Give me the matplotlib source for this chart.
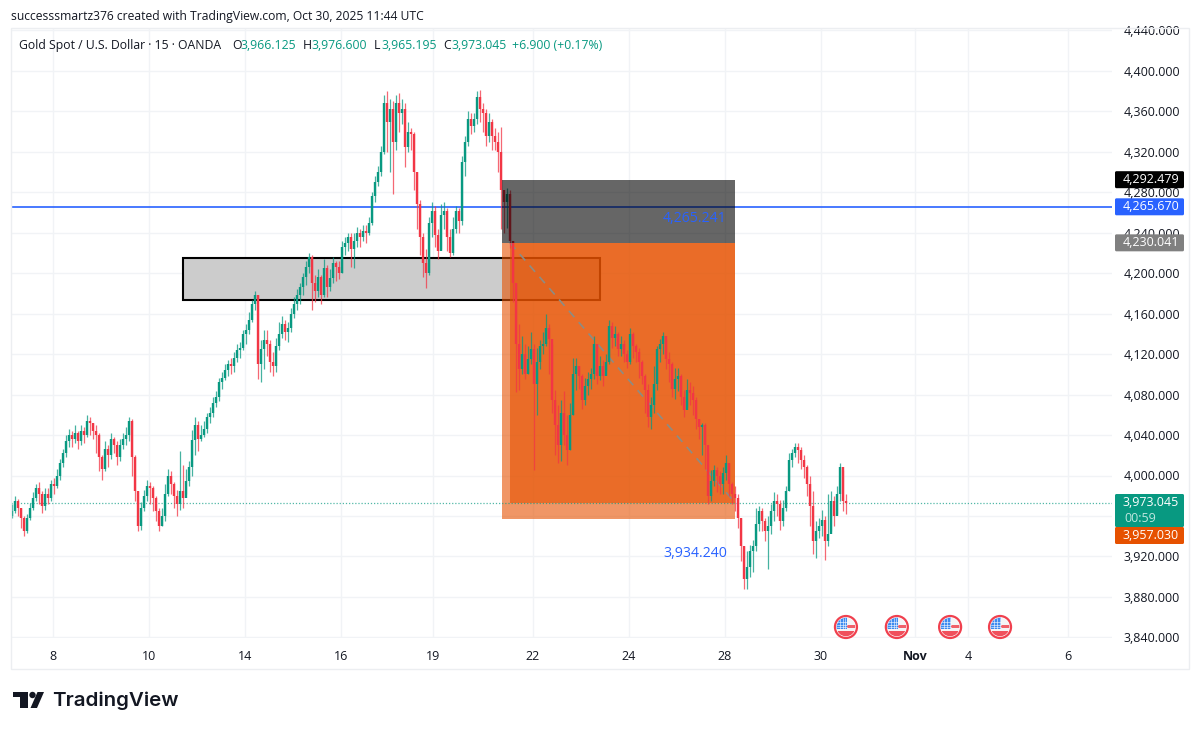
import matplotlib
matplotlib.use('Agg')
import matplotlib.pyplot as plt
from matplotlib.patches import Rectangle, Circle, Polygon, FancyBboxPatch

# 15 min gold chart, thinned out to one candle every 1/16 session
closes = [
    3965,3975,3968,3958,3945,3958,3968,3978,3988,3982,3970,3982,
    3978,3992,3990,4000,4012,4022,4034,4040,4036,4042,4034,4044,
    4040,4054,4052,4044,4040,4018,4006,4026,4020,4036,4030,4018,
    4030,4036,4040,4054,4018,3985,3950,3968,3980,3990,3988,3978,
    3965,3950,3960,3982,4000,3992,3980,3972,3985,3978,3995,4008,
    4035,4050,4036,4040,4046,4058,4062,4072,4078,4092,4096,4104,
    4110,4108,4116,4124,4126,4140,4144,4154,4170,4178,4110,4125,
    4134,4130,4112,4108,4128,4140,4150,4142,4146,4160,4170,4178,
    4186,4196,4206,4216,4190,4182,4196,4178,4205,4186,4195,4210,
    4206,4200,4226,4230,4236,4224,4232,4240,4236,4242,4240,4250,
    4276,4290,4300,4320,4368,4350,4362,4330,4368,4358,4362,4325,
    4340,4338,4300,4268,4236,4210,4200,4250,4262,4238,4222,4258,
    4262,4236,4220,4244,4262,4252,4310,4330,4352,4346,4352,4374,
    4362,4358,4336,4350,4336,4330,4320,4282,4270,4278,4232,4190,
    4130,4105,4120,4100,4115,4125,4090,4112,4128,4130,4146,4135,
    4075,4050,4030,4062,4040,4025,4060,4100,4108,4098,4075,4088,
    4095,4100,4130,4098,4108,4098,4112,4148,4136,4140,4125,4130,
    4120,4112,4140,4128,4122,4112,4098,4085,4058,4070,4090,4125,
    4130,4138,4115,4110,4086,4095,4098,4078,4065,4085,4082,4075,
    4056,4048,4050,4030,3980,3995,4005,4000,3992,4002,4012,3992,
    3982,3978,3958,3930,3898,3910,3925,3930,3952,3965,3955,3945,
    3950,3965,3975,3972,3955,3968,3985,4015,4022,4028,4025,4015,
    4008,3992,3970,3935,3945,3950,3956,3935,3942,3975,3960,3982,
    4008,3975,3973,
]
highs = [
    3972,3980,3977,3968,3960,3962,3973,3984,3992,3994,3985,3988,
    3988,3996,3998,4006,4016,4026,4040,4046,4044,4050,4044,4050,
    4048,4060,4058,4052,4050,4042,4020,4034,4030,4042,4038,4034,
    4036,4042,4048,4058,4056,4020,3985,3974,3986,3996,3994,3990,
    3980,3968,3968,3992,4006,4004,3994,3986,4024,4010,4006,4014,
    4045,4058,4054,4050,4054,4062,4068,4078,4084,4096,4102,4110,
    4114,4116,4122,4130,4132,4144,4150,4162,4174,4182,4178,4134,
    4144,4144,4134,4122,4136,4152,4158,4154,4152,4166,4176,4184,
    4190,4200,4212,4220,4218,4198,4204,4198,4214,4208,4204,4216,
    4212,4212,4232,4236,4240,4240,4240,4246,4244,4248,4248,4256,
    4280,4296,4306,4326,4376,4380,4372,4370,4376,4378,4372,4368,
    4350,4344,4340,4300,4272,4240,4224,4256,4270,4266,4244,4268,
    4270,4264,4244,4256,4266,4264,4316,4336,4360,4358,4358,4380,
    4381,4368,4362,4358,4352,4344,4340,4345,4276,4284,4282,4232,
    4190,4150,4138,4130,4128,4142,4130,4126,4134,4142,4160,4150,
    4130,4085,4070,4075,4084,4060,4072,4116,4116,4108,4100,4096,
    4102,4106,4138,4130,4118,4114,4120,4154,4152,4148,4142,4138,
    4134,4124,4146,4142,4130,4126,4114,4100,4090,4078,4108,4128,
    4135,4142,4135,4122,4112,4106,4106,4100,4085,4095,4092,4088,
    4078,4056,4052,4052,4022,4005,4010,4008,4004,4008,4020,4012,
    3994,3990,3982,3958,3930,3925,3931,3936,3968,3970,3968,3958,
    3960,3972,3984,3982,3976,3976,3990,4022,4026,4032,4032,4028,
    4020,4010,4000,3985,3955,3958,3966,3960,3982,3985,3980,3990,
    4012,4005,3982,
]
lows = [
    3958,3963,3960,3948,3940,3943,3956,3966,3975,3972,3963,3966,
    3972,3975,3982,3988,3996,4008,4018,4028,4028,4032,4026,4030,
    4032,4038,4040,4036,4022,4004,3996,4004,4008,4016,4022,4010,
    4014,4026,4030,4034,4000,3975,3945,3946,3965,3975,3972,3965,
    3955,3945,3950,3955,3980,3982,3968,3960,3966,3968,3982,3990,
    4000,4020,4024,4034,4038,4042,4052,4058,4068,4074,4086,4094,
    4098,4100,4102,4112,4116,4124,4130,4140,4152,4164,4095,4092,
    4105,4118,4102,4098,4102,4124,4136,4134,4132,4142,4156,4164,
    4170,4178,4188,4200,4164,4172,4176,4170,4176,4176,4182,4190,
    4192,4194,4200,4218,4222,4206,4205,4226,4226,4232,4230,4238,
    4248,4270,4286,4296,4318,4320,4300,4278,4322,4340,4348,4305,
    4320,4322,4282,4244,4218,4196,4185,4198,4236,4226,4214,4224,
    4244,4222,4216,4218,4240,4240,4248,4296,4326,4338,4340,4348,
    4350,4340,4326,4330,4322,4322,4300,4244,4240,4245,4225,4172,
    4083,4085,4100,4095,4100,4110,4005,4060,4105,4120,4128,4100,
    4062,4020,4012,4014,4030,4010,4025,4060,4085,4086,4066,4070,
    4080,4086,4095,4090,4094,4088,4104,4110,4126,4128,4118,4118,
    4112,4106,4110,4116,4112,4096,4090,4062,4048,4046,4062,4085,
    4112,4120,4105,4092,4078,4076,4084,4070,4058,4068,4070,4060,
    4046,4036,4020,4006,3972,3975,3990,3984,3982,3982,3996,3980,
    3972,3965,3948,3915,3888,3888,3900,3905,3925,3945,3945,3935,
    3908,3942,3955,3960,3946,3950,3965,3985,4008,4018,4012,4006,
    3998,3980,3950,3922,3918,3938,3940,3916,3930,3945,3950,3962,
    3975,3965,3962,
]
first_open = 3960
first_bar = -0.854   # sessions after Oct 8
bar_step = 1 / 16

price_ticks = [3840, 3880, 3920, 3960, 4000, 4040, 4080, 4120, 4160, 4200, 4240, 4280, 4320, 4360, 4400, 4440]
day_pos = [0, 2, 4, 6, 7.92, 10, 12, 14, 16, 17.96, 19.06, 21.15]
day_labels = ['8', '10', '14', '16', '19', '22', '24', '28', '30', 'Nov', '4', '6']

stop_price = 4292.479
entry_price = 4230.041
target_price = 3957.030
last_price = 3973.045
line_price = 4265.670
line_note = 4265.241
low_note = 3934.240
zone_top = 4215
zone_bottom = 4173.5
pos_start = 9.354
pos_fill = 9.52
pos_end = 14.21
zone_start = 2.71
zone_end = 11.4
event_days = [16.52, 17.58, 18.69, 19.73]

GREEN = '#089981'
RED = '#F23645'
BLUE = '#2962FF'
GRID = '#F1F3F6'
TEXT = '#131722'
FONT = 'Open Sans'

fig = plt.figure(figsize=(12, 7.32), dpi=100)
ax = fig.add_axes([11/1200, 1 - 638/732, (1112-11)/1200, (638-28)/732])
ax.set_xlim((11-53)/48, (1112-53)/48)
ax.set_ylim(4000 - (638-475.5)/1.0114, 4000 + (475.5-28)/1.0114)

ax.set_yticks(price_ticks)
ax.set_yticklabels([f'{p:,.3f}' for p in price_ticks], fontsize=9, color=TEXT, family=FONT)
ax.yaxis.tick_right()
ax.set_xticks(day_pos)
ax.set_xticklabels(day_labels, fontsize=9, color=TEXT, family=FONT)
ax.get_xticklabels()[9].set_fontweight('bold')
ax.tick_params(axis='y', length=0, pad=8.5)
ax.tick_params(axis='x', length=0, pad=8.4)
ax.grid(True, color=GRID, lw=1)
ax.set_axisbelow(True)
for s in ax.spines.values():
    s.set_visible(False)

# zone box under everything else
ax.add_patch(Rectangle((zone_start, zone_bottom), zone_end - zone_start, zone_top - zone_bottom,
                       fc='#CCCCCC', ec='black', lw=1.5, zorder=2))

# short position tool
ax.add_patch(Rectangle((pos_start, target_price), pos_end - pos_start, entry_price - target_price,
                       fc='#E65100', alpha=0.6, lw=0, zorder=2.5))
ax.add_patch(Rectangle((pos_fill, last_price), pos_end - pos_fill, entry_price - last_price,
                       fc='#E65100', alpha=0.6, lw=0, zorder=2.5))
ax.plot([pos_fill, pos_end], [entry_price, last_price], color='#8C8C84', lw=1.2, ls=(0, (5, 4)), zorder=2.6)

ax.axhline(line_price, color=BLUE, lw=1.2, zorder=2.8)
ax.axhline(last_price, color=GREEN, lw=0.9, ls=(0, (1, 1.5)), alpha=0.7, zorder=2.8)

opens = [first_open] + closes[:-1]
xs = [first_bar + i * bar_step for i in range(len(closes))]
cols = [GREEN if c >= o else RED for o, c in zip(opens, closes)]
ax.vlines(xs, lows, highs, colors=cols, lw=0.9, alpha=0.75, zorder=3)
ax.vlines(xs, opens, closes, colors=cols, lw=1.7, zorder=3.1)

ax.add_patch(Rectangle((pos_start, entry_price), pos_end - pos_start, stop_price - entry_price,
                       fc='black', alpha=0.6, lw=0, zorder=4))

# value notes sit a little under the level they name
ax.text(14.04, line_note - 11.5, f'{line_note:,.3f}', color=BLUE, fontsize=10.2, family=FONT,
        ha='right', va='center', zorder=5)
ax.text(14.04, low_note - 11.5, f'{low_note:,.3f}', color=BLUE, fontsize=10.2, family=FONT,
        ha='right', va='center', zorder=5)

# everything outside the price pane is laid out in pixels
ov = fig.add_axes([0, 0, 1, 1], zorder=5)
ov.set_xlim(0, 1200)
ov.set_ylim(732, 0)
ov.axis('off')
ov.patch.set_alpha(0)

def price_y(p):
    return 475.5 - (p - 4000) * 1.0114

def day_x(d):
    return 53 + d * 48

ov.add_patch(Rectangle((11, 28), 1178, 641, fc='none', ec='#ECEEF1', lw=1))

# price tags on the scale
def tag(price, color, y0=None, y1=None):
    yc = price_y(price)
    y0 = yc - 8.5 if y0 is None else y0
    y1 = yc + 8.5 if y1 is None else y1
    ov.add_patch(FancyBboxPatch((1115, y0), 69, y1 - y0, boxstyle='round,pad=0,rounding_size=1.5',
                                fc=color, ec='none'))

for price, color in [(stop_price, '#000000'), (line_price, BLUE), (entry_price, '#808080')]:
    tag(price, color)
    ov.text(1179, price_y(price), f'{price:,.3f}', color='white', fontsize=9, family=FONT,
            ha='right', va='center')
tag(last_price, GREEN, 494, 527)
tag(target_price, '#E65100', 527, 544)
ov.text(1179, 503, f'{last_price:,.3f}', color='white', fontsize=9, family=FONT, ha='right', va='center')
ov.text(1124, 518, '00:59', color='#BFE6DF', fontsize=9, family=FONT, ha='left', va='center')
ov.text(1179, 535.5, f'{target_price:,.3f}', color='white', fontsize=9, family=FONT, ha='right', va='center')

# header lines
ov.text(11, 16.5, 'successsmartz376 created with TradingView.com, Oct 30, 2025 11:44 UTC',
        color=TEXT, fontsize=8.7, family=FONT, va='center')
legend_bits = [
    (19, 'Gold Spot / U.S. Dollar · 15 · OANDA', TEXT), (232, 'O', TEXT), (240, '3,966.125', GREEN),
    (303, 'H', TEXT), (311, '3,976.600', GREEN), (374, 'L', TEXT), (381, '3,965.195', GREEN),
    (443, 'C', TEXT), (451, '3,973.045', GREEN), (512, '+6.900 (+0.17%)', GREEN),
]
for x, s, c in legend_bits:
    ov.text(x, 45.5, s, color=c, fontsize=8.8, family=FONT, va='center')

# US economic event badges
for d in event_days:
    cx, cy = day_x(d), 627
    ov.add_patch(Circle((cx, cy), 11, fc='white', ec='#F0404E', lw=1.6))
    clip = Circle((cx, cy), 9.3, transform=ov.transData)
    parts = [
        Rectangle((cx - 10, cy - 10), 20, 20, fc='#F4F4F6', lw=0),
        Rectangle((cx, cy - 2), 10, 2.5, fc='#F0606A', lw=0),
        Rectangle((cx - 10, cy + 4), 20, 6, fc='#F0505C', lw=0),
        Rectangle((cx - 10, cy - 10), 11, 12, fc='#3D8BF0', lw=0),
    ]
    for p in parts:
        ov.add_patch(p)
        p.set_clip_path(clip)
    # small star grid on the canton
    for off in (-6, -3, -0.5):
        ln = ov.plot([cx + off, cx + off], [cy - 9, cy + 2], color='white', lw=0.4)[0]
        ln.set_clip_path(clip)
    for off in (-5.5, -2.5, 0):
        ln = ov.plot([cx - 9, cx + 1], [cy + off, cy + off], color='white', lw=0.4)[0]
        ln.set_clip_path(clip)
ov.set_xlim(0, 1200)
ov.set_ylim(732, 0)

# TradingView mark and wordmark
ov.add_patch(Polygon([(13, 692), (28, 692), (28, 708), (20, 708), (20, 697), (13, 697)], fc='#131722', lw=0))
ov.add_patch(Circle((32.5, 695), 3.2, fc='#131722', lw=0))
ov.add_patch(Polygon([(37.5, 692), (44, 692), (37, 708), (30.5, 708)], fc='#131722', lw=0))
ov.text(52, 701, 'TradingView', color='#131722', fontsize=14.8, family='Inter', fontweight='semibold', va='center')

fig.savefig('out.png', dpi=100, facecolor='white')
